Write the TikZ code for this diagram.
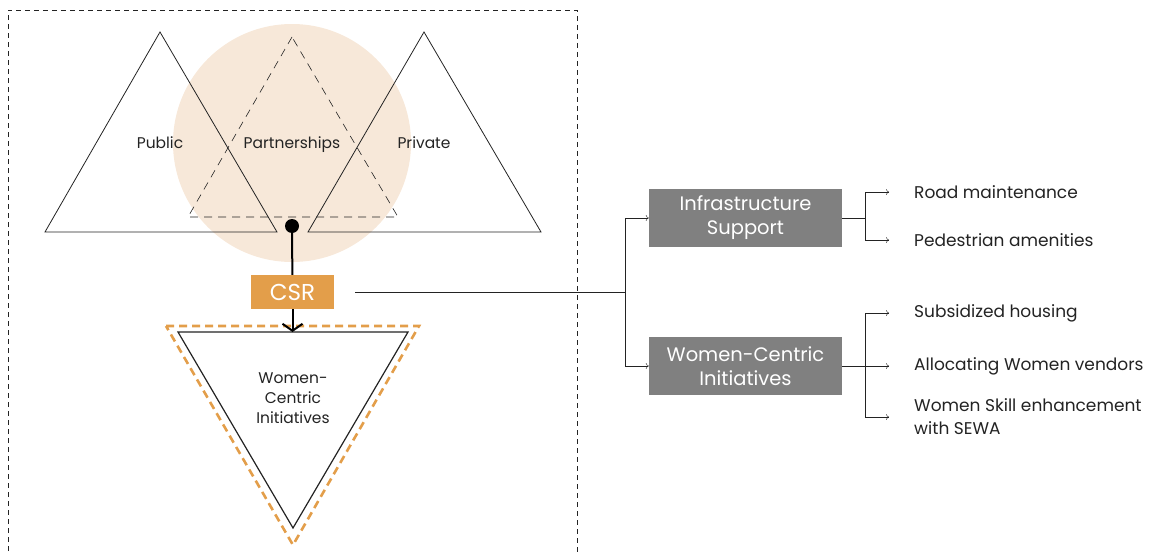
\documentclass[tikz,border=0pt]{standalone}
\usepackage{fontspec}
\setmainfont{Poppins}
\usetikzlibrary{arrows.meta, positioning, calc}
\definecolor{myorange}{RGB}{227,158,74}
\definecolor{mybeige}{RGB}{247,232,217}
\definecolor{mygrey}{RGB}{128,128,128}
\definecolor{mydark}{RGB}{35,35,35}
\tikzset{
  lbl/.style={font=\fontsize{15.5}{20}\selectfont, text=mydark, align=center},
  item/.style={anchor=west, inner xsep=0pt, font=\fontsize{17}{23}\selectfont,
    text=mydark, align=left},
  greybox/.style={rectangle, fill=mygrey, text=white, align=center,
    minimum width=193pt, minimum height=58pt, inner sep=0pt,
    font=\fontsize{19.5}{24}\selectfont},
  csrbox/.style={rectangle, fill=myorange, text=white, minimum width=83pt,
    minimum height=34pt, inner sep=0pt, font=\fontsize{23}{26}\selectfont},
  tip/.style={-{To[length=3pt,width=6pt]}, thin, color=mydark},
  line/.style={thin, color=mydark}
}
\begin{document}
\begin{tikzpicture}[x=1pt, y=-1pt]
  \useasboundingbox (0,0) rectangle (1149,554);

  % frame round the left part
  \draw[mydark, thin, dash pattern=on 5pt off 4pt] (8,560) -- (8,10) -- (577,10) -- (577,560);

  % public / private / partnerships
  \fill[mybeige] (292,143) circle (119);
  \draw[mydark, line width=0.8pt] (160,32) -- (45,232) -- (277,232) -- cycle;
  \draw[mydark, line width=0.8pt] (424,32) -- (308,232) -- (541,232) -- cycle;
  \draw[mydark, line width=0.6pt, dash pattern=on 8pt off 6pt] (292,37) -- (188,217) -- (398,217) -- cycle;

  \node[lbl, anchor=base] (pub) at (160,148) {Public};
  \node[lbl, anchor=base] (part) at (292,148) {Partnerships};
  \node[lbl, anchor=base] (priv) at (424,148) {Private};

  \node[circle, fill=black, minimum size=14pt, inner sep=0pt] (dot) at (292,226) {};
  \node[csrbox] (csr) at (292.5,292) {CSR};
  \draw[black, line width=2pt] (dot) -- (csr);

  % women-centric triangle
  \draw[myorange, line width=2.6pt, dash pattern=on 8pt off 5pt] (166,326) -- (419,326) -- (293,545) -- cycle;
  \draw[mydark, line width=1.2pt] (178,332) -- (408,332) -- (293,528) -- cycle;
  \coordinate (wtop) at (292.5,332);
  \draw[black, line width=2pt, -{Straight Barb[length=7pt,width=20pt]}] (csr) -- (wtop);
  \node[lbl] (wci) at (293,398) {Women-\\Centric\\Initiatives};

  % right side
  \node[greybox] (infra) at (745.5,218) {Infrastructure\\Support};
  \node[greybox] (wbox) at (745.5,366) {Women-Centric\\Initiatives};

  \coordinate (split) at (625,292);
  \draw[line, shorten <=21pt] (csr.east) -- (split);
  \draw[tip] (split) |- (infra.west);
  \draw[tip] (split) |- (wbox.west);

  \node[item] (road) at (914,192) {Road maintenance};
  \node[item] (ped) at (914,240) {Pedestrian amenities};
  \node[item] (house) at (914,313) {Subsidized housing};
  \node[item] (vend) at (914,366) {Allocating Women vendors};
  \node[item] (skill) at (914,417) {Women Skill enhancement\\with SEWA};

  \draw[line] (infra.east) -- ++(23,0) coordinate (isplit);
  \draw[tip, shorten >=25pt] (isplit) |- (road.west);
  \draw[tip, shorten >=25pt] (isplit) |- (ped.west);

  \draw[line] (wbox.east) -- ++(23,0) coordinate (wsplit);
  \draw[tip, shorten >=25pt] (wsplit) |- (house.west);
  \draw[tip, shorten >=25pt] (wsplit) -- (wsplit -| vend.west);
  \draw[tip, shorten >=25pt] (wsplit) |- (skill.west);
\end{tikzpicture}
\end{document}
